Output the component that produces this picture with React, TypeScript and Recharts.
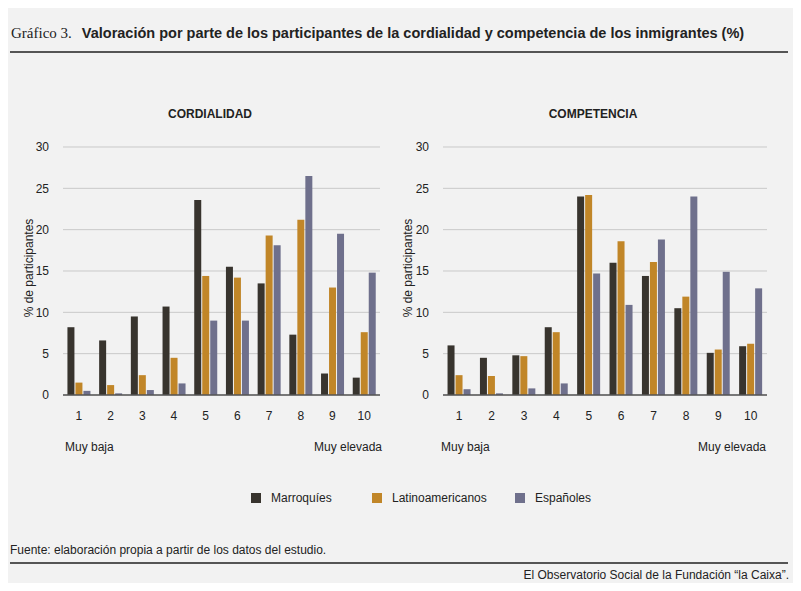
import React from "react";
import { BarChart, Bar, XAxis, YAxis, CartesianGrid } from "recharts";

const categories = ["1", "2", "3", "4", "5", "6", "7", "8", "9", "10"];
const cordMarroquies = [8.2, 6.6, 9.5, 10.7, 23.6, 15.5, 13.5, 7.3, 2.6, 2.1];
const cordLatino = [1.5, 1.2, 2.4, 4.5, 14.4, 14.2, 19.3, 21.2, 13.0, 7.6];
const cordEspanoles = [0.5, 0.2, 0.6, 1.4, 9.0, 9.0, 18.1, 26.5, 19.5, 14.8];
const compMarroquies = [6.0, 4.5, 4.8, 8.2, 24.0, 16.0, 14.4, 10.5, 5.1, 5.9];
const compLatino = [2.4, 2.3, 4.7, 7.6, 24.2, 18.6, 16.1, 11.9, 5.5, 6.2];
const compEspanoles = [0.7, 0.2, 0.8, 1.4, 14.7, 10.9, 18.8, 24.0, 14.9, 12.9];
const yTicks = [0, 5, 10, 15, 20, 25, 30];

const C_M = "#38342e";
const C_L = "#c18628";
const C_E = "#6f708c";
const font = "'Liberation Sans', Arial, sans-serif";

const build = (m: number[], l: number[], e: number[]) =>
  categories.map((c, i) => ({ cat: c, m: m[i], l: l[i], e: e[i] }));

function Panel({ left, width, title, data, labelLeft }: any) {
  return (
    <div style={{ position: "absolute", left, top: 130, width, height: 330 }}>
      <BarChart width={width} height={305} data={data}
        margin={{ top: 17, right: 10, bottom: 0, left: 0 }}
        barCategoryGap="14%" barGap={1}>
        <CartesianGrid vertical={false} stroke="#c9c9c9" />
        <XAxis dataKey="cat" tickLine={false} stroke="#555" strokeWidth={1.5}
          tick={{ fill: "#222", fontSize: 12, fontFamily: font }} height={40} tickMargin={10} />
        <YAxis domain={[0, 30]} ticks={yTicks} axisLine={false} tickLine={false}
          width={43} tick={{ fill: "#222", fontSize: 12, fontFamily: font }} tickMargin={8} />
        <Bar dataKey="m" fill={C_M} isAnimationActive={false} />
        <Bar dataKey="l" fill={C_L} isAnimationActive={false} />
        <Bar dataKey="e" fill={C_E} isAnimationActive={false} />
      </BarChart>
      <div style={{ position: "absolute", left: labelLeft, top: 138, transform: "translate(-50%,-50%) rotate(-90deg)", fontSize: 12, whiteSpace: "nowrap", color: "#222" }}>% de participantes</div>
    </div>
  );
}

export default function App() {
  return (
    <div style={{ position: "relative", width: 801, height: 591, background: "#f2f2f2", fontFamily: font, color: "#222", overflow: "hidden", margin: -8 }}>
      <div style={{ position: "absolute", left: 11, top: 24, fontSize: 15, whiteSpace: "nowrap" }}>
        <span style={{ fontFamily: "'Liberation Serif', serif", fontSize: 15 }}>Gráfico 3.</span>
        <span style={{ fontWeight: "bold", marginLeft: 10, fontSize: 14.5 }}>Valoración por parte de los participantes de la cordialidad y competencia de los inmigrantes (%)</span>
      </div>
      <div style={{ position: "absolute", left: 10, top: 51, width: 778, height: 2, background: "#555" }} />
      <div style={{ position: "absolute", left: 210, top: 107, transform: "translateX(-50%)", fontSize: 12, fontWeight: "bold" }}>CORDIALIDAD</div>
      <div style={{ position: "absolute", left: 593, top: 107, transform: "translateX(-50%)", fontSize: 12, fontWeight: "bold" }}>COMPETENCIA</div>
      <Panel left={20} width={370} title="CORDIALIDAD" data={build(cordMarroquies, cordLatino, cordEspanoles)} labelLeft={9} />
      <Panel left={400} width={377} title="COMPETENCIA" data={build(compMarroquies, compLatino, compEspanoles)} labelLeft={8} />
      <div style={{ position: "absolute", left: 65, top: 440, fontSize: 12 }}>Muy baja</div>
      <div style={{ position: "absolute", left: 314, top: 440, fontSize: 12 }}>Muy elevada</div>
      <div style={{ position: "absolute", left: 441, top: 440, fontSize: 12 }}>Muy baja</div>
      <div style={{ position: "absolute", left: 698, top: 440, fontSize: 12 }}>Muy elevada</div>
      {[["Marroquíes", C_M, 251], ["Latinoamericanos", C_L, 372], ["Españoles", C_E, 515]].map(([t, c, x]: any) => (
        <div key={t} style={{ position: "absolute", left: x, top: 491, fontSize: 12, display: "flex", alignItems: "center" }}>
          <span style={{ display: "inline-block", width: 10, height: 10, background: c, marginRight: 10 }} />{t}
        </div>
      ))}
      <div style={{ position: "absolute", left: 10, top: 543, fontSize: 12 }}>Fuente: elaboración propia a partir de los datos del estudio.</div>
      <div style={{ position: "absolute", left: 10, top: 562, width: 778, height: 2, background: "#555" }} />
      <div style={{ position: "absolute", right: 12, top: 568, fontSize: 12 }}>El Observatorio Social de la Fundación “la Caixa”.</div>
    </div>
  );
}
